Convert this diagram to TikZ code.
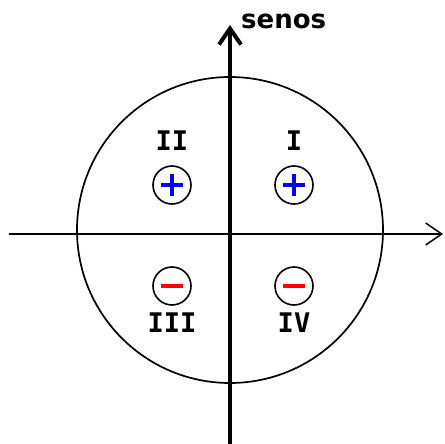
\documentclass[tikz,border=0pt]{standalone}
\usepackage{fontspec}
\setmainfont{DejaVu Sans}
\newfontfamily\monofont{DejaVu Sans Mono}
\usetikzlibrary{arrows.meta,positioning}
\definecolor{signoAzul}{RGB}{0,0,255}
\definecolor{signoRojo}{RGB}{255,0,0}

\begin{document}
\begin{tikzpicture}[x=1pt,y=-1pt,
  eje/.style={-{Straight Barb[length=16pt,width=22pt]},line width=1.5pt},
  cuadrante/.style={font=\monofont\bfseries\fontsize{27}{27}\selectfont,inner sep=0pt},
  signo/.style={circle,draw,line width=1.6pt,minimum size=38pt,inner sep=0pt},
  mas/.style={signo,path picture={
      \draw[signoAzul,line width=4pt]
        ([xshift=-11pt]path picture bounding box.center)--([xshift=11pt]path picture bounding box.center)
        ([yshift=-11pt]path picture bounding box.center)--([yshift=11pt]path picture bounding box.center);}},
  menos/.style={signo,path picture={
      \draw[signoRojo,line width=4pt]
        ([xshift=-11pt]path picture bounding box.center)--([xshift=11pt]path picture bounding box.center);}}
]
  \useasboundingbox (0,0) rectangle (445,444);

  % circunferencia
  \node[circle,draw,line width=1.7pt,minimum size=306pt,inner sep=0pt](circ) at (230,230){};

  % ejes
  \coordinate (xizq) at (9,234);
  \coordinate (xder) at (443,234);
  \coordinate (yab)  at (230,446);
  \coordinate (yarr) at (230,25);
  \draw[eje](xizq)--(xder);
  \draw[eje,line width=4pt](yab)--(yarr);
  \node[font=\bfseries\fontsize{26}{26}\selectfont,anchor=west,inner sep=0pt](senos) at (241,21){senos};

  % cuadrantes
  \node[cuadrante](qII)  at (172,141){II};
  \node[cuadrante](qI)   at (294,141){I};
  \node[cuadrante](qIII) at (172,323){III};
  \node[cuadrante](qIV)  at (294,323){IV};

  % signos
  \node[mas]  (sII)  at (172,185){};
  \node[mas]  (sI)   at (294,185){};
  \node[menos](sIII) at (172,286){};
  \node[menos](sIV)  at (294,286){};
\end{tikzpicture}
\end{document}
